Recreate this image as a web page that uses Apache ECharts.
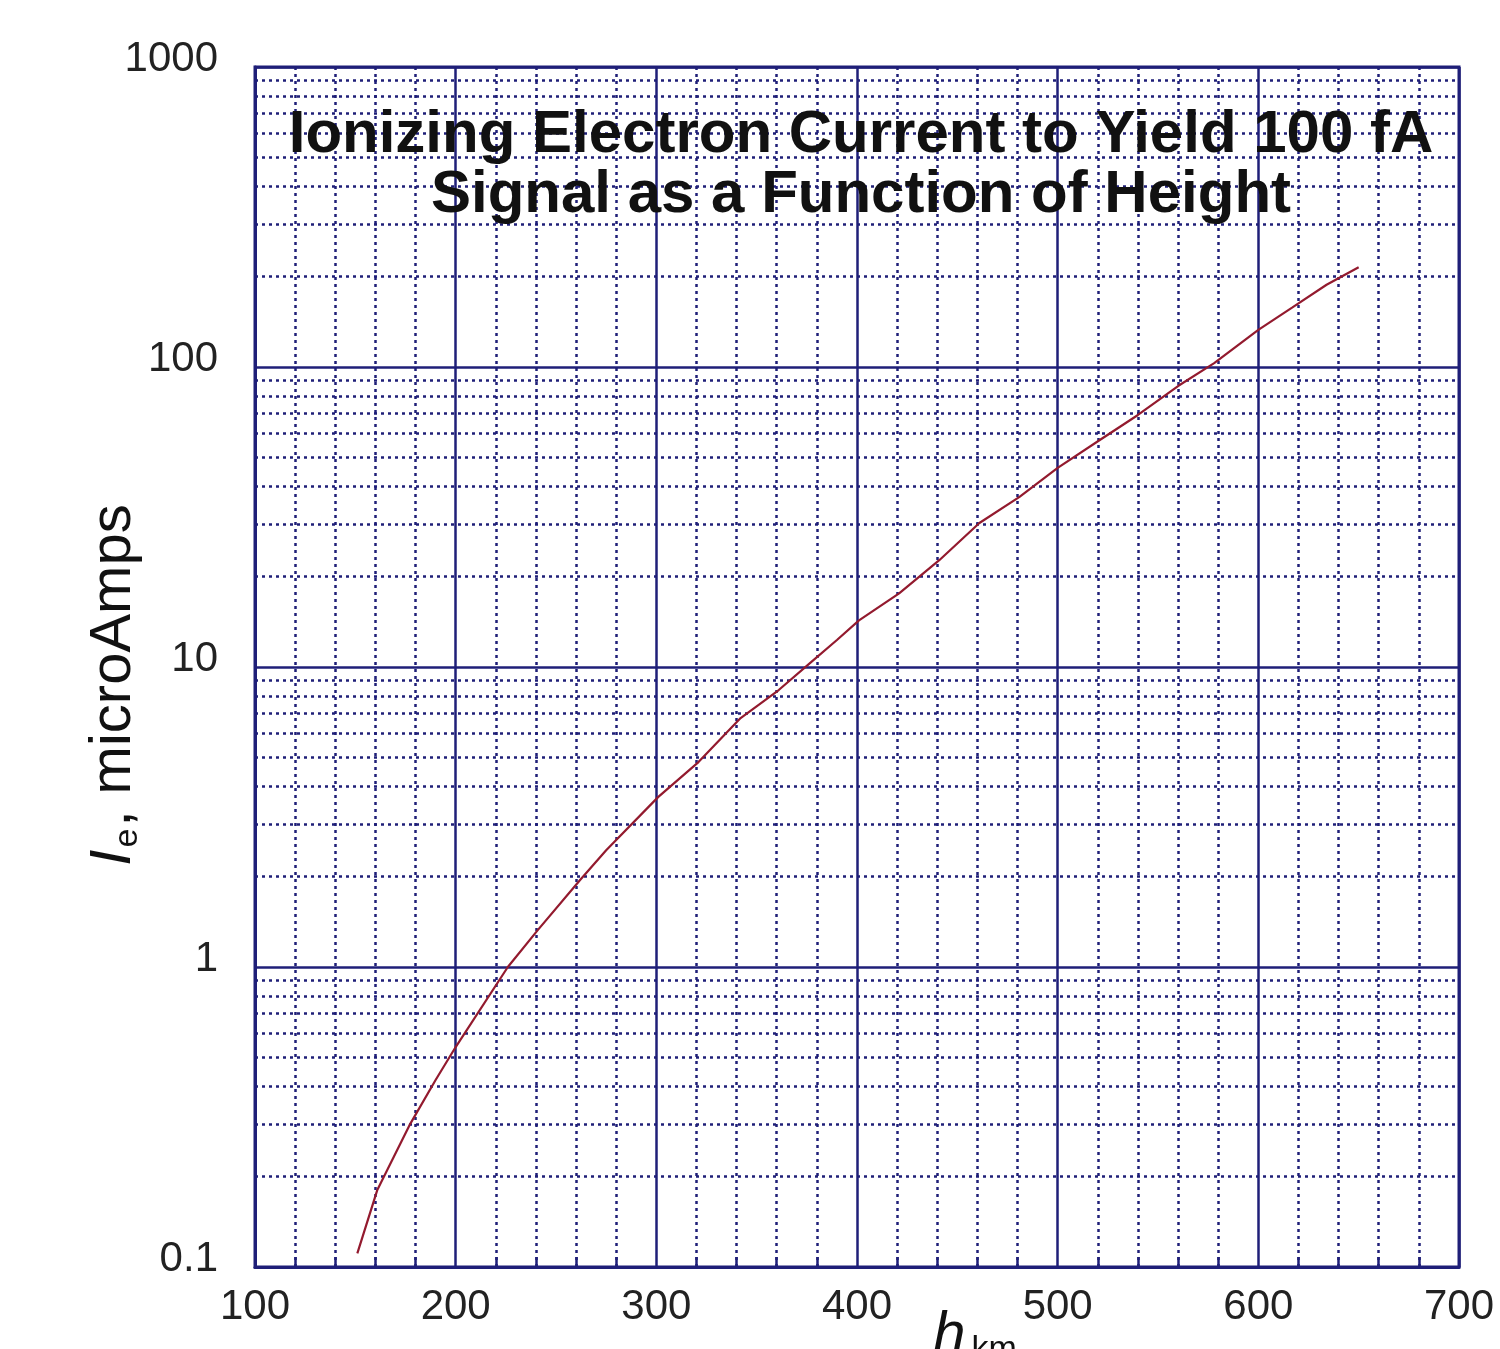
<!DOCTYPE html>
<html>
<head>
<meta charset="utf-8">
<script src="https://cdn.jsdelivr.net/npm/echarts@6/dist/echarts.min.js"></script>
<style>
html,body{margin:0;padding:0;background:#fff;}
#chart{width:1500px;height:1349px;}
</style>
</head>
<body>
<div id="chart"></div>
<script>
// Height (km) and ionizing electron current (microAmps)
const heights  = [151, 161, 177, 190, 200, 226, 241, 262, 275, 301, 321, 342, 361, 378, 390, 401, 421, 441, 461, 481, 500, 521, 540, 560, 578, 600, 617, 634, 650];
const currents = [0.111, 0.181, 0.297, 0.42, 0.541, 1.0, 1.33, 1.95, 2.45, 3.69, 4.82, 6.76, 8.38, 10.5, 12.3, 14.3, 17.6, 22.7, 30.2, 36.9, 46.1, 57.1, 69.2, 86.4, 103, 133, 158, 188, 215];
const yTickLabels = ['0.1', '1', '10', '100', '1000'];
const xTickLabels = ['100', '200', '300', '400', '500', '600', '700'];
// log-decade minor gridline values
const minorYLines = [0.2,0.3,0.4,0.5,0.6,0.7,0.8,0.9, 2,3,4,5,6,7,8,9, 20,30,40,50,60,70,80,90, 200,300,400,500,600,700,800,900];
const titleLines = ['Ionizing Electron Current to Yield 100 fA', 'Signal as a Function of Height'];

const NAVY = '#1f1f78';
const FONT = 'Liberation Sans, Arial, sans-serif';
const chart = echarts.init(document.getElementById('chart'), null, {renderer: 'canvas'});
const lineData = heights.map((h, i) => [h, currents[i]]);

chart.setOption({
  backgroundColor: '#ffffff',
  animation: false,
  title: {
    text: titleLines.join('\n'),
    left: 856,
    textAlign: 'center',
    top: 100,
    textStyle: {
      fontFamily: FONT,
      fontSize: 60,
      fontWeight: 'bold',
      color: '#111111',
      lineHeight: 60
    }
  },
  grid: {
    left: 255, right: 41, top: 67, bottom: 82,
    outerBoundsMode: 'none',
    containLabel: false,
    show: true, borderColor: NAVY, borderWidth: 3, backgroundColor: 'transparent'
  },
  xAxis: {
    type: 'value', min: 100, max: 700, interval: 100,
    axisLine: {show: true, lineStyle: {color: NAVY, width: 3}},
    axisTick: {show: false, inside: true},
    minorTick: {show: true, splitNumber: 5, length: 10, lineStyle: {color: NAVY, width: 2.5}},
    splitLine: {show: true, lineStyle: {color: NAVY, width: 2.5, type: 'solid'}},
    minorSplitLine: {show: true, lineStyle: {color: NAVY, width: 2.5, type: [3, 4]}},
    axisLabel: {
      fontFamily: FONT, fontSize: 42, color: '#222222', margin: 19,
      formatter: v => xTickLabels[Math.round((v - 100) / 100)] ?? ''
    },
    name: '{h|h}{km|km}',
    nameLocation: 'middle',
    nameMoveOverlap: false,
    nameGap: 40,
    nameTextStyle: {
      padding: [0, 0, 0, 236],
      rich: {
        h: {fontFamily: FONT, fontStyle: 'italic', fontSize: 58, color: '#111', verticalAlign: 'top', lineHeight: 60},
        km: {fontFamily: FONT, fontSize: 34, color: '#111', padding: [0, 0, 0, 6], verticalAlign: 'bottom', lineHeight: 40}
      }
    }
  },
  yAxis: {
    type: 'log', logBase: 10, min: 0.1, max: 1000,
    axisLine: {show: true, lineStyle: {color: NAVY, width: 3}},
    axisTick: {show: false},
    splitLine: {show: true, lineStyle: {color: NAVY, width: 2.5, type: 'solid'}},
    axisLabel: {
      fontFamily: FONT, fontSize: 42, color: '#222222', margin: 37,
      verticalAlign: 'bottom', lineHeight: 16,
      formatter: v => yTickLabels[Math.round(Math.log10(v)) + 1] ?? ''
    },
    name: '{i|I}{e|e}{t|, microAmps}',
    nameLocation: 'middle',
    nameRotate: 90,
    nameMoveOverlap: false,
    nameGap: 110,
    nameTextStyle: {
      padding: [0, 36, 0, 0],
      rich: {
        i: {fontFamily: FONT, fontStyle: 'italic', fontSize: 58, color: '#111', verticalAlign: 'top', lineHeight: 60},
        e: {fontFamily: FONT, fontSize: 34, color: '#111', verticalAlign: 'bottom', lineHeight: 36, padding: [0, 2, 0, 2]},
        t: {fontFamily: FONT, fontSize: 58, color: '#111', verticalAlign: 'top', lineHeight: 60}
      }
    }
  },
  series: [{
    type: 'line',
    data: lineData,
    showSymbol: false,
    smooth: false,
    lineStyle: {color: '#931a2e', width: 2.2},
    markLine: {
      silent: true,
      symbol: 'none',
      label: {show: false},
      lineStyle: {color: NAVY, width: 2.5, type: [3, 4]},
      data: minorYLines.map(v => ({yAxis: v}))
    },
    z: 5
  }]
});
</script>
</body>
</html>
